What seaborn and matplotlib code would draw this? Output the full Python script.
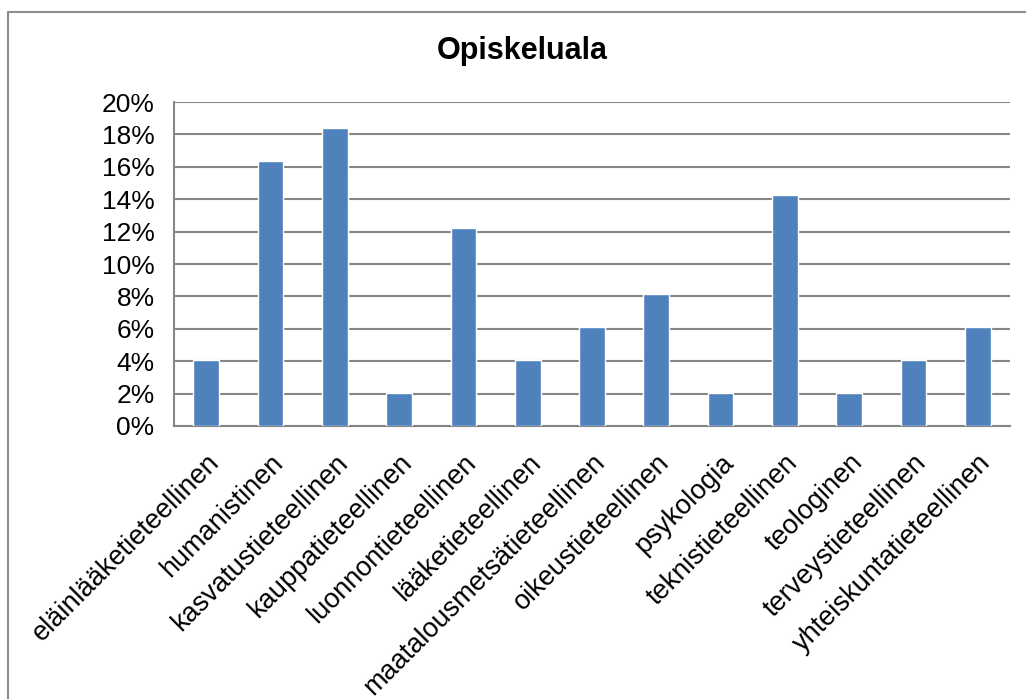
import matplotlib
matplotlib.use("Agg")
import matplotlib.pyplot as plt
import seaborn as sns
import pandas as pd
from matplotlib.lines import Line2D
from matplotlib.ticker import PercentFormatter, FixedLocator

categories = [
    "eläinlääketieteellinen", "humanistinen", "kasvatustieteellinen",
    "kauppatieteellinen", "luonnontieteellinen", "lääketieteellinen",
    "maatalousmetsätieteellinen", "oikeustieteellinen", "psykologia",
    "teknistieteellinen", "teologinen", "terveystieteellinen",
    "yhteiskuntatieteellinen",
]
shares = [4.08, 16.33, 18.37, 2.04, 12.24, 4.08, 6.12, 8.16, 2.04, 14.29, 2.04, 4.08, 6.12]
yticks = [0, 2, 4, 6, 8, 10, 12, 14, 16, 18, 20]

sns.set_style("white")
plt.rcParams["font.family"] = ["Liberation Sans", "DejaVu Sans"]
plt.rcParams["text.color"] = "black"
plt.rcParams["xtick.labelcolor"] = "black"
plt.rcParams["ytick.labelcolor"] = "black"

df = pd.DataFrame({"ala": categories, "osuus": shares})

fig = plt.figure(figsize=(10.26, 6.99), dpi=100)
ax = fig.add_axes([0.1696, 0.3906, 0.8148, 0.4634])

sns.barplot(data=df, x="ala", y="osuus", color="#4F81BD", width=0.4,
            saturation=1, ax=ax, zorder=3)

grid_col = "#868686"
ax.set_ylim(0, 20)
ax.set_xlim(-0.5, len(categories) - 0.5)
ax.set_yticks(yticks)
ax.yaxis.set_major_formatter(PercentFormatter(decimals=0))
ax.yaxis.grid(True, color=grid_col, linewidth=1.5, zorder=0)
ax.set_axisbelow(True)

# x ticks at category boundaries, labels at centres
ax.set_xticks(range(len(categories)))
ax.set_xticklabels(categories, rotation=45, ha="right", rotation_mode="anchor")
ax.tick_params(axis="x", which="major", length=0, pad=17, labelsize=19.5, labelcolor="black")
ax.xaxis.set_minor_locator(FixedLocator([i - 0.5 for i in range(len(categories) + 1)]))
ax.tick_params(axis="x", which="minor", length=8, width=1.5, color=grid_col, direction="out")
ax.tick_params(axis="y", length=8, width=1.5, color=grid_col, direction="out",
               labelsize=19, pad=6, labelcolor="black")

for s in ["top", "right"]:
    ax.spines[s].set_visible(False)
for s in ["left", "bottom"]:
    ax.spines[s].set_color(grid_col)
    ax.spines[s].set_linewidth(1.5)

ax.set_xlabel("")
ax.set_ylabel("")

fig.text(0.509, 0.927, "Opiskeluala", ha="center", va="center",
         fontsize=22, fontweight="bold", color="black")

# outer chart border (left and top visible)
fig.add_artist(Line2D([8 / 1026, 8 / 1026], [0, 1 - 12 / 699], color="#8c8c8c", lw=1.5,
                      transform=fig.transFigure))
fig.add_artist(Line2D([8 / 1026, 1], [1 - 12 / 699, 1 - 12 / 699], color="#8c8c8c", lw=1.5,
                      transform=fig.transFigure))

plt.savefig("out.png", dpi=100)
